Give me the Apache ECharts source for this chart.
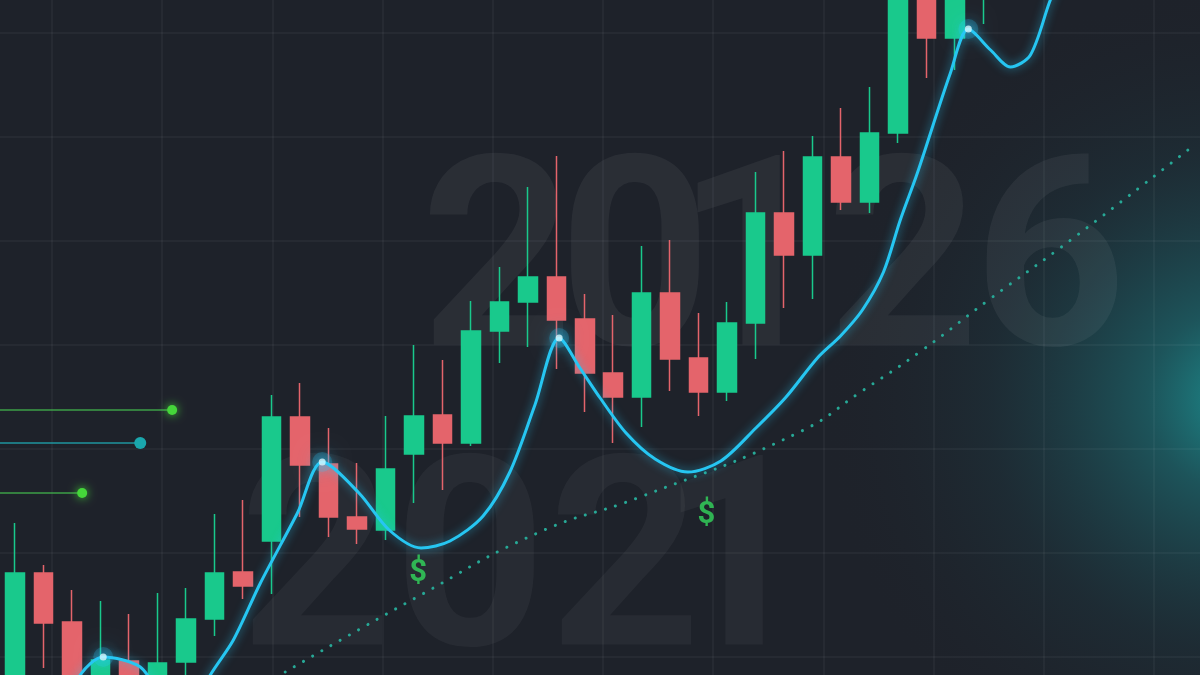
<!DOCTYPE html>
<html>
<head>
<meta charset="utf-8">
<script src="https://cdn.jsdelivr.net/npm/echarts@6/dist/echarts.min.js"></script>
<style>
html,body{margin:0;padding:0;background:#1e222a;}
#chart{width:1200px;height:675px;}
</style>
</head>
<body>
<div id="chart"></div>
<script>
// ---- data ----
const categories = ['1','2','3','4','5','6','7','8','9','10','11','12','13','14','15','16','17','18','19','20','21','22','23','24','25','26','27','28','29','30','31','32','33','34','35','36','37','38','39','40','41','42'];
// [open, close, low, high]
const candles = [
  [97.0, 120.4, 95.0, 130.4],
  [120.4, 110.4, 101.4, 122.0],
  [110.6, 97.0, 95.0, 117.0],
  [95.0, 103.0, 93.0, 114.8],
  [102.8, 96.0, 94.0, 112.2],
  [95.0, 102.4, 93.0, 116.4],
  [102.6, 111.2, 98.6, 117.4],
  [111.2, 120.4, 107.8, 132.2],
  [120.6, 117.8, 115.2, 135.0],
  [126.8, 151.6, 116.2, 156.0],
  [151.6, 142.0, 131.6, 158.4],
  [142.2, 131.6, 127.6, 149.4],
  [131.6, 129.2, 126.2, 142.4],
  [129.0, 141.2, 127.0, 151.8],
  [144.2, 151.8, 134.4, 166.0],
  [152.0, 146.4, 137.0, 163.0],
  [146.4, 168.8, 145.8, 174.8],
  [168.8, 174.6, 162.4, 181.6],
  [174.6, 179.6, 165.6, 197.6],
  [179.6, 171.0, 161.2, 203.8],
  [171.2, 160.4, 152.6, 176.2],
  [160.4, 155.6, 146.4, 172.0],
  [155.6, 176.4, 149.6, 185.8],
  [176.4, 163.2, 156.8, 187.0],
  [163.4, 156.6, 151.8, 172.4],
  [156.6, 170.4, 154.8, 174.6],
  [170.4, 192.4, 163.2, 200.6],
  [192.4, 184.0, 173.4, 204.8],
  [184.0, 203.6, 175.2, 207.8],
  [203.6, 194.6, 193.0, 213.4],
  [194.6, 208.4, 192.4, 217.6],
  [208.4, 237.0, 206.4, 241.0],
  [238.0, 227.4, 219.4, 241.0],
  [227.4, 239.0, 221.0, 243.0],
  [236.0, 243.0, 230.2, 247.0],
  '-','-','-','-','-','-','-'
];
// smooth trend line [position in candle index, price]
const trendLineX = [1.58, 2.28, 3.09, 4.39, 5.27, 6.32, 6.85, 7.66, 8.61, 9.91, 10.78, 12.07, 13.13, 14.25, 15.27, 16.43, 17.37, 18.25, 19.10, 19.83, 20.54, 21.45, 22.47, 23.62, 24.78, 26.01, 27.07, 28.17, 28.98, 29.75, 30.49, 31.08, 31.68, 32.84, 33.47, 34.25, 34.95, 35.65, 36.35, 36.70];
const trendLineY = [91.0, 100.0, 103.6, 101.6, 95.0, 94.0, 100.0, 107.0, 118.4, 132.4, 142.6, 136.4, 129.0, 125.4, 126.8, 131.8, 140.6, 154.0, 167.4, 161.4, 155.4, 148.4, 143.2, 140.6, 142.8, 149.4, 155.6, 163.4, 167.8, 173.0, 180.6, 191.0, 200.4, 220.4, 229.2, 225.0, 221.6, 224.0, 235.0, 239.0];
// glowing peaks on the trend line
const peakX = [3.09, 10.78, 19.10, 33.47];
const peakY = [103.6, 142.6, 167.4, 229.2];
// dotted support curve
const supportX = [9.48, 14.05, 18.34, 21.85, 27.47, 29.79, 31.86, 34.18, 37.16, 41.27];
const supportY = [100.6, 115.4, 128.4, 135.4, 148.4, 157.0, 165.0, 175.0, 187.4, 205.4];
// dollar markers
const dollarX = [14.15, 24.27];
const dollarY = [120.4, 132.0];
// level markers on the left
const levelY = [153.0, 146.4, 136.4];
const levelEndX = [5.51, 4.39, 2.35];
const levelColors = ['#45d63a', '#1aa7ad', '#45d63a'];
const levelLineColors = ['rgba(70,200,80,0.75)', 'rgba(30,170,180,0.85)', 'rgba(70,200,80,0.75)'];
// watermark years
const yearTop = ['2','0','1','2','6'];
const yearTopX = [497, 635, 752, 903, 1050];
const yearBottom = ['2','0','2','1'];
const yearBottomX = [316, 470, 625, 735];

const GREEN = '#19c98c';
const RED = '#e4646b';

const chart = echarts.init(document.getElementById('chart'), null, {renderer: 'canvas'});

function pairs(xs, ys) { return xs.map((x, i) => [x, ys[i]]); }

const levelSeries = levelY.map((y, i) => ({
  type: 'line',
  xAxisIndex: 1, yAxisIndex: 0,
  data: [{value: [-0.7, y], symbol: 'none'}, {value: [levelEndX[i], y]}],
  symbol: 'circle',
  symbolSize: i === 1 ? 12 : 10,
  showSymbol: true,
  lineStyle: {color: levelLineColors[i], width: 1.5},
  itemStyle: {color: levelColors[i], shadowBlur: i === 1 ? 0 : 10, shadowColor: levelColors[i]},
  z: 3, silent: true, animation: false
}));

const textEls = [];
yearTop.forEach((t, i) => textEls.push({
  type: 'text', z: 1,
  style: {text: t, x: yearTopX[i], y: 278, textAlign: 'center', textVerticalAlign: 'middle',
    font: 'bold 266px Roboto', fill: 'rgba(255,255,255,0.055)'}
}));
yearBottom.forEach((t, i) => textEls.push({
  type: 'text', z: 1,
  style: {text: t, x: yearBottomX[i], y: 578, textAlign: 'center', textVerticalAlign: 'middle',
    font: 'bold 266px Roboto', fill: 'rgba(255,255,255,0.045)'}
}));

const gridLine = {show: true, showMinLine: true, showMaxLine: false, lineStyle: {color: 'rgba(255,255,255,0.055)', width: 1.5}};
const hidden = {axisLabel: {show: false}, axisTick: {show: false}, axisLine: {show: false}};

chart.setOption({
  backgroundColor: '#1e222a',
  animation: false,
  graphic: [
    {type: 'circle', z: 0, shape: {cx: 1240, cy: 400, r: 420},
      style: {fill: new echarts.graphic.RadialGradient(0.5, 0.5, 0.5, [
        {offset: 0, color: 'rgba(28,155,155,0.9)'},
        {offset: 0.22, color: 'rgba(28,125,130,0.55)'},
        {offset: 0.6, color: 'rgba(28,80,90,0.2)'},
        {offset: 1, color: 'rgba(30,34,42,0)'}
      ])}}
  ].concat(textEls),
  grid: [
    {left: 1, right: 3, top: 0, bottom: 0},
    {left: 52, right: 0, top: 0, bottom: 0},
    {left: 0, right: 0, top: 33, bottom: 0}
  ],
  xAxis: [
    {type: 'category', gridIndex: 0, data: categories, boundaryGap: true, show: false},
    {type: 'value', gridIndex: 0, min: -0.5, max: 41.5, show: false},
    Object.assign({type: 'value', gridIndex: 1, min: 0, max: 1148 / 110.2, interval: 1, splitLine: gridLine}, hidden),
    Object.assign({type: 'value', gridIndex: 2, min: 0, max: 1, splitLine: {show: false}}, hidden)
  ],
  yAxis: [
    {type: 'value', gridIndex: 0, min: 100, max: 235, show: false},
    Object.assign({type: 'value', gridIndex: 1, min: 0, max: 1, splitLine: {show: false}}, hidden),
    Object.assign({type: 'value', gridIndex: 2, min: 0, max: 642 / 104, interval: 1, inverse: true, splitLine: gridLine}, hidden)
  ],
  series: [
    {type: 'line', xAxisIndex: 2, yAxisIndex: 1, data: [], silent: true},
    {type: 'line', xAxisIndex: 3, yAxisIndex: 2, data: [], silent: true},
    {
      name: 'support', type: 'line', xAxisIndex: 1, yAxisIndex: 0,
      data: pairs(supportX, supportY), smooth: 0.5, symbol: 'none',
      lineStyle: {color: '#27a896', width: 3, type: [0.1, 10.5], cap: 'round'},
      z: 2, silent: true
    },
    {
      name: 'price', type: 'candlestick', xAxisIndex: 0, yAxisIndex: 0,
      data: candles, barWidth: 19,
      itemStyle: {color: GREEN, color0: RED, borderColor: GREEN, borderColor0: RED, borderWidth: 1.5},
      z: 3, silent: true
    },
    {
      name: 'trend', type: 'line', xAxisIndex: 1, yAxisIndex: 0,
      data: pairs(trendLineX, trendLineY), smooth: 0.3, symbol: 'none',
      lineStyle: {color: '#26c6f2', width: 3, shadowBlur: 10, shadowColor: 'rgba(38,198,242,0.7)'},
      z: 4, silent: true
    },
    {
      name: 'peakHalo', type: 'scatter', xAxisIndex: 1, yAxisIndex: 0,
      data: pairs(peakX, peakY), symbolSize: 20,
      itemStyle: {color: 'rgba(40,200,255,0.28)', shadowBlur: 18, shadowColor: 'rgba(40,210,255,0.95)'},
      z: 5, silent: true
    },
    {
      name: 'peaks', type: 'scatter', xAxisIndex: 1, yAxisIndex: 0,
      data: pairs(peakX, peakY), symbolSize: 7,
      itemStyle: {color: '#d8f9ff', shadowBlur: 12, shadowColor: '#2ad2ff'},
      z: 6, silent: true
    },
    {
      name: 'dollar', type: 'scatter', xAxisIndex: 1, yAxisIndex: 0,
      data: pairs(dollarX, dollarY), symbolSize: 1, itemStyle: {color: 'rgba(0,0,0,0)'},
      label: {show: true, position: 'inside', formatter: '$', color: '#33d85c', fontSize: 31, fontWeight: 'bold', fontFamily: 'Roboto'},
      z: 5, silent: true
    }
  ].concat(levelSeries)
});
</script>
</body>
</html>
